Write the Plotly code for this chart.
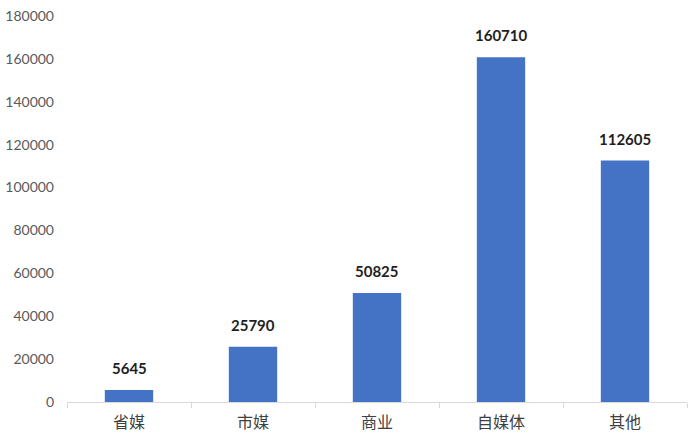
import plotly.graph_objects as go

categories = ["省媒", "市媒", "商业", "自媒体", "其他"]
values = [5645, 25790, 50825, 160710, 112605]
y_ticks = [0, 20000, 40000, 60000, 80000, 100000, 120000, 140000, 160000, 180000]

fig = go.Figure()
fig.add_trace(go.Bar(
    x=categories, y=values,
    marker=dict(color="#4472C4", line=dict(width=0)),
    width=0.39,
    hoverinfo="skip",
))

for c, v in zip(categories, values):
    fig.add_annotation(
        x=c, y=v, text=f"<b>{v}</b>", showarrow=False,
        yanchor="bottom", yshift=11,
        font=dict(family="Lato, 'Open Sans', sans-serif", size=15, color="#1f1f1f"),
    )

fig.update_layout(
    width=700, height=441,
    margin=dict(l=67, r=13, t=16, b=39, autoexpand=False),
    paper_bgcolor="white", plot_bgcolor="white",
    showlegend=False,
    xaxis=dict(
        type="category", automargin=False,
        showline=True, linecolor="#d9d9d9", linewidth=1,
        ticks="outside", tickson="boundaries", ticklen=5, tickcolor="#d9d9d9",
        showgrid=False, zeroline=False, ticklabelstandoff=6,
        tickfont=dict(family="'Noto Sans CJK SC', sans-serif", size=16, color="#404040"),
        range=[-0.5, 4.5],
    ),
    yaxis=dict(
        range=[0, 180000], automargin=False,
        tickvals=y_ticks, ticktext=[str(t) for t in y_ticks],
        showgrid=False, zeroline=False, showline=False,
        ticks="", ticklabelstandoff=12,
        tickfont=dict(family="Lato, 'Open Sans', sans-serif", size=14, color="#595959"),
    ),
)

fig.write_html("out.html")
